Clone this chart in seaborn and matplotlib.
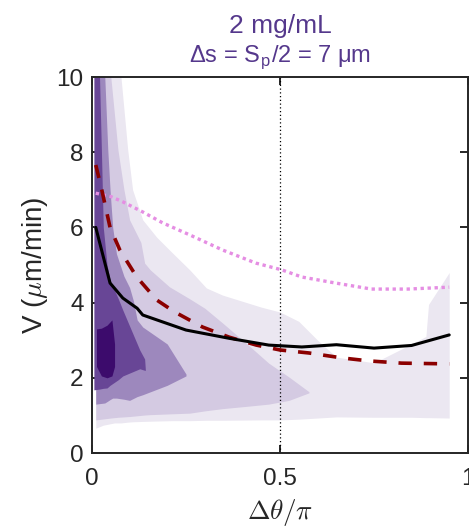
import numpy as np
import pandas as pd
import matplotlib
matplotlib.use("Agg")
import matplotlib.pyplot as plt
import seaborn as sns

# ---- contour bands (density levels, lightest -> darkest) ----
x1 = [0.01, 0.03, 0.06, 0.077, 0.095, 0.108, 0.135, 0.172, 0.214, 0.26, 0.304, 0.347, 0.45, 0.5, 0.55, 0.6, 0.65, 0.75, 0.85, 0.888, 0.895, 0.95]
up1 = [10.5, 10.5, 10.5, 10.0, 8.06, 7.0, 6.2, 5.74, 5.32, 4.87, 4.39, 4.2, 3.88, 3.75, 3.5, 3.0, 2.55, 2.4, 2.9, 3.1, 3.95, 4.8]
lo1 = [0.66, 0.74, 0.8, 0.8, 0.82, 0.83, 0.84, 0.85, 0.86, 0.86, 0.87, 0.87, 0.88, 0.88, 0.9, 0.93, 0.96, 0.95, 0.95, 0.94, 0.94, 0.93]

x2 = [0.01, 0.05, 0.069, 0.085, 0.1, 0.13, 0.14, 0.155, 0.206, 0.26, 0.3, 0.347, 0.41, 0.47, 0.524, 0.577]
up2 = [10.5, 10.0, 8.06, 7.0, 6.2, 5.6, 5.05, 4.87, 4.42, 4.1, 3.85, 3.46, 2.92, 2.39, 2.02, 1.63]
lo2 = [0.88, 0.93, 0.95, 0.96, 0.97, 1.0, 1.01, 1.02, 1.04, 1.06, 1.12, 1.18, 1.24, 1.3, 1.4, 1.6]

x3 = [0.01, 0.034, 0.042, 0.048, 0.055, 0.065, 0.085, 0.1, 0.11, 0.12, 0.135, 0.2, 0.25]
up3 = [10.5, 10.0, 8.06, 7.0, 6.0, 5.3, 4.7, 4.4, 4.05, 3.54, 3.35, 2.9, 2.1]
lo3 = [1.3, 1.33, 1.38, 1.42, 1.46, 1.46, 1.43, 1.4, 1.45, 1.5, 1.55, 1.8, 2.05]

x4 = [0.005, 0.02, 0.025, 0.03, 0.04, 0.048, 0.07, 0.082, 0.127, 0.14, 0.142]
up4 = [10.5, 10.0, 8.06, 6.0, 5.0, 4.6, 4.1, 3.8, 2.74, 2.5, 2.2]
lo4 = [1.68, 1.7, 1.71, 1.72, 1.73, 1.8, 1.95, 2.05, 2.24, 2.2, 2.2]

x5 = [0.012, 0.025, 0.04, 0.053, 0.06]
up5 = [3.3, 3.32, 3.4, 3.54, 2.9]
lo5 = [2.3, 2.05, 2.0, 2.05, 2.3]

band_colors = ["#ebe7f1", "#d4cae2", "#9d88bd", "#684696", "#3c0b6c"]

# ---- lines ----
x_mean = [0.01, 0.048, 0.082, 0.12, 0.135, 0.25, 0.365, 0.47, 0.558, 0.65, 0.75, 0.85, 0.95]
v_mean = [6.0, 4.52, 4.12, 3.85, 3.67, 3.27, 3.05, 2.87, 2.82, 2.88, 2.79, 2.86, 3.14]

x_fit = [0.01, 0.026, 0.048, 0.074, 0.119, 0.172, 0.22, 0.294, 0.365, 0.437, 0.5, 0.577, 0.664, 0.735, 0.823, 0.95]
v_fit = [7.66, 7.0, 6.0, 5.4, 4.68, 4.07, 3.75, 3.35, 3.08, 2.87, 2.74, 2.66, 2.53, 2.45, 2.39, 2.37]

x_ref = [0.01, 0.05, 0.082, 0.135, 0.188, 0.26, 0.347, 0.436, 0.505, 0.558, 0.648, 0.743, 0.84, 0.95]
v_ref = [6.91, 6.82, 6.68, 6.41, 6.12, 5.8, 5.4, 5.05, 4.87, 4.68, 4.52, 4.36, 4.36, 4.41]

xticks = [0, 0.5, 1]
xtick_labels = ["0", "0.5", "1"]
yticks = [0, 2, 4, 6, 8, 10]

sns.set_theme(style="ticks")
plt.rcParams["font.family"] = ["Liberation Sans", "DejaVu Sans"]
plt.rcParams["mathtext.fontset"] = "cm"

fig = plt.figure(figsize=(4.69, 5.29), dpi=100)
ax = fig.add_axes([92 / 469, 1 - 453 / 529, 376 / 469, 376 / 529])

bands = [(x1, lo1, up1), (x2, lo2, up2), (x3, lo3, up3), (x4, lo4, up4), (x5, lo5, up5)]
for (bx, blo, bup), c in zip(bands, band_colors):
    ax.fill_between(bx, blo, bup, color=c, linewidth=0, zorder=1)

df_mean = pd.DataFrame({"x": x_mean, "v": v_mean})
df_fit = pd.DataFrame({"x": x_fit, "v": v_fit})
df_ref = pd.DataFrame({"x": x_ref, "v": v_ref})

sns.lineplot(data=df_ref, x="x", y="v", ax=ax, color="#e58ee3", lw=2.4,
             linestyle=(0, (1.0, 1.1)), dash_capstyle="butt", zorder=3)
sns.lineplot(data=df_fit, x="x", y="v", ax=ax, color="#8b0000", lw=2.6,
             linestyle=(0, (3.7, 3.3)), zorder=4)
sns.lineplot(data=df_mean, x="x", y="v", ax=ax, color="black", lw=2.2, zorder=5)

ax.axvline(0.5, color="black", lw=0.9, linestyle=(0, (1, 2)), zorder=2)

ax.set_xlim(0, 1)
ax.set_ylim(0, 10)
ax.set_xticks(xticks)
ax.set_xticklabels(xtick_labels)
ax.set_yticks(yticks)
ax.tick_params(direction="in", length=6, width=1.4, labelsize=17.5, colors="#262626",
               top=True, right=True)
ax.tick_params(axis="x", pad=11)
ax.tick_params(axis="y", pad=6)
for s in ax.spines.values():
    s.set_linewidth(1.4)
    s.set_color("#262626")
    s.set_visible(True)

ax.set_xlabel(r"$\Delta\theta/\pi$", fontsize=19.5, color="#262626", labelpad=5)
ax.set_ylabel(r"V ($\mu$m/min)", fontsize=20, color="#262626", labelpad=5)

title_color = "#55388c"
ax.text(0.5, 1.117, "2 mg/mL", transform=ax.transAxes, ha="center", va="baseline",
        fontsize=19, color=title_color)
ax.text(0.5, 1.04, r"Δs = S$_\mathregular{p}$/2 = 7 μm", transform=ax.transAxes,
        ha="center", va="baseline", fontsize=17, color=title_color)

fig.savefig("out.png", dpi=100)
